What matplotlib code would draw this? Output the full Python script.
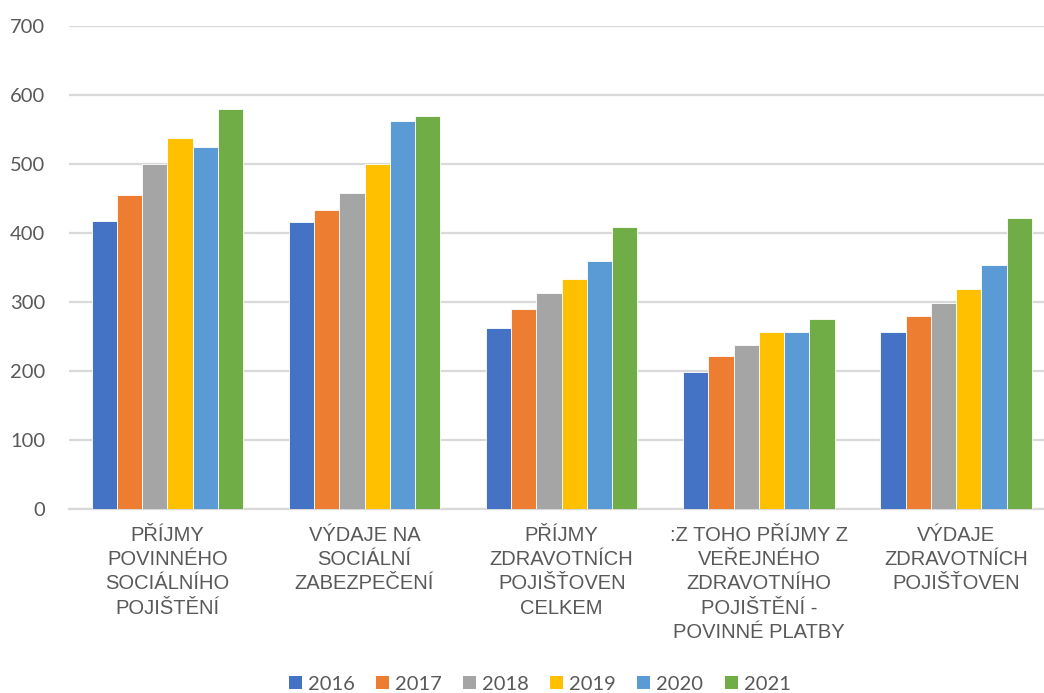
import numpy as np
import matplotlib
matplotlib.use("Agg")
import matplotlib.pyplot as plt
from matplotlib.patches import Patch

categories = [
    "PŘÍJMY\nPOVINNÉHO\nSOCIÁLNÍHO\nPOJIŠTĚNÍ",
    "VÝDAJE NA\nSOCIÁLNÍ\nZABEZPEČENÍ",
    "PŘÍJMY\nZDRAVOTNÍCH\nPOJIŠŤOVEN\nCELKEM",
    ":Z TOHO PŘÍJMY Z\nVEŘEJNÉHO\nZDRAVOTNÍHO\nPOJIŠTĚNÍ -\nPOVINNÉ PLATBY",
    "VÝDAJE\nZDRAVOTNÍCH\nPOJIŠŤOVEN",
]
years = ["2016", "2017", "2018", "2019", "2020", "2021"]

v2016 = [417, 416, 262, 198, 257]
v2017 = [455, 433, 290, 222, 280]
v2018 = [500, 458, 313, 238, 299]
v2019 = [537, 500, 333, 256, 319]
v2020 = [525, 563, 359, 257, 353]
v2021 = [579, 570, 409, 275, 422]
series = [v2016, v2017, v2018, v2019, v2020, v2021]

colors = ["#4472C4", "#ED7D31", "#A5A5A5", "#FFC000", "#5B9BD5", "#70AD47"]
text_color = "#595959"
grid_color = "#D9D9D9"

fig = plt.figure(figsize=(10.44, 6.93), dpi=100)
ax = fig.add_axes([0.0659, 0.2655, 0.9443, 0.697])

x = np.arange(len(categories))
w = 0.128
for i, (vals, c) in enumerate(zip(series, colors)):
    ax.bar(x + (i - 2.5) * w, vals, width=w, color=c, edgecolor="white",
           linewidth=0.6, zorder=3, label=years[i])

ax.set_xlim(-0.5, len(categories) - 0.5)
ax.set_ylim(0, 700)
ax.set_yticks(range(0, 701, 100))
ax.yaxis.grid(True, color=grid_color, linewidth=1.6, zorder=0)
ax.set_axisbelow(True)
for s in ["top", "right", "left"]:
    ax.spines[s].set_visible(False)
ax.spines["bottom"].set_color(grid_color)
ax.spines["bottom"].set_linewidth(1.6)

ax.tick_params(axis="y", length=0, pad=17, labelsize=14.5, labelcolor=text_color)
for lab in ax.get_yticklabels():
    lab.set_fontfamily("Lato")

ax.set_xticks(x)
ax.set_xticklabels(categories, fontsize=14.5, color=text_color,
                   fontfamily=["Liberation Sans", "DejaVu Sans"], linespacing=1.36)
ax.tick_params(axis="x", length=0, pad=12)

handles = [Patch(facecolor=c, label=y) for c, y in zip(colors, years)]
fig.legend(handles=handles, loc="center", bbox_to_anchor=(0.517, 1 - 684 / 693),
           ncol=6, frameon=False, handlelength=0.65, handleheight=0.65,
           handletextpad=0.3, columnspacing=1.05,
           prop={"family": "Lato", "size": 14.5}, labelcolor=text_color)

fig.savefig("out.png", dpi=100)
